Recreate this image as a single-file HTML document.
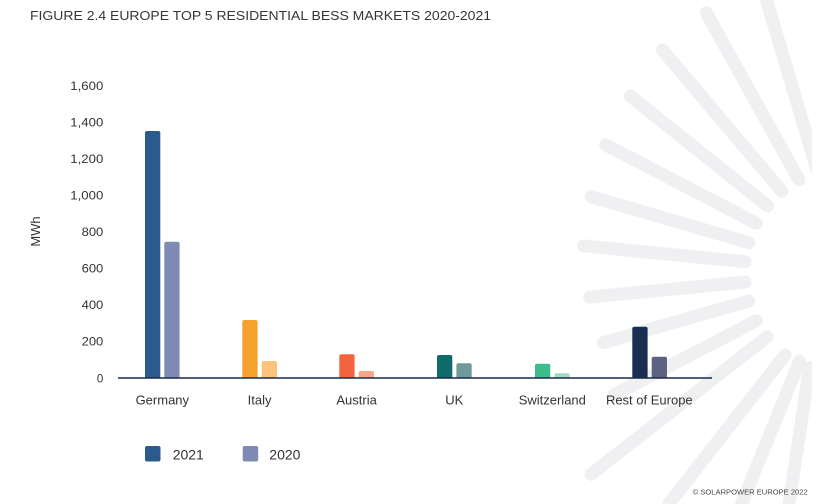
<!DOCTYPE html>
<html>
<head>
<meta charset="utf-8">
<style>
  html, body { margin: 0; padding: 0; background: #ffffff; width: 817px; height: 504px; overflow: hidden; }
  svg { display: block; overflow: hidden; }
  text { font-family: "Liberation Sans", sans-serif; }
</style>
</head>
<body>
<svg width="817" height="504" viewBox="0 0 817 504" xmlns="http://www.w3.org/2000/svg">
  <defs>
    <clipPath id="rc"><rect x="0" y="0" width="812" height="504"/></clipPath>
  </defs>
  <rect x="0" y="0" width="817" height="504" fill="#ffffff"/>

  <!-- sunburst rays -->
  <g clip-path="url(#rc)" fill="#f0f0f2">
    <polygon points="759.6,0 773.2,0 812,130.2 812,175.7"/>
  </g>
  <g clip-path="url(#rc)" stroke="#f0f0f2" stroke-width="13" stroke-linecap="round" fill="none">
    <line x1="798.9" y1="179.7" x2="706.3" y2="12.7"/>
    <line x1="781.9" y1="191.4" x2="662.5" y2="50.1"/>
    <line x1="767.7" y1="206.0" x2="630.3" y2="96.0"/>
    <line x1="756.4" y1="223.3" x2="605.6" y2="144.8"/>
    <line x1="748.7" y1="242.6" x2="591.2" y2="196.8"/>
    <line x1="745.0" y1="261.7" x2="583.8" y2="245.9"/>
    <line x1="745.0" y1="282.1" x2="589.7" y2="297.1"/>
    <line x1="748.6" y1="301.1" x2="603.4" y2="342.7"/>
    <line x1="756.4" y1="320.7" x2="614.1" y2="394.8"/>
    <line x1="766.9" y1="337.0" x2="591.1" y2="474.3"/>
    <line x1="785.0" y1="355.1" x2="668.7" y2="504"/>
    <line x1="799.5" y1="361.5" x2="741.5" y2="504"/>
    <line x1="809.5" y1="367.5" x2="789" y2="504"/>
  </g>

  <!-- title -->
  <text x="30" y="20" font-size="13" fill="#363636" textLength="461" lengthAdjust="spacingAndGlyphs">FIGURE 2.4 EUROPE TOP 5 RESIDENTIAL BESS MARKETS 2020-2021</text>

  <!-- y axis title -->
  <text transform="translate(40,231.5) rotate(-90)" font-size="13" fill="#333" text-anchor="middle">MWh</text>

  <!-- y tick labels -->
  <g font-size="11.5" fill="#333" text-anchor="end">
    <text x="103.3" y="90" textLength="33" lengthAdjust="spacingAndGlyphs">1,600</text>
    <text x="103.3" y="126.5" textLength="33" lengthAdjust="spacingAndGlyphs">1,400</text>
    <text x="103.3" y="163" textLength="33" lengthAdjust="spacingAndGlyphs">1,200</text>
    <text x="103.3" y="199.5" textLength="33" lengthAdjust="spacingAndGlyphs">1,000</text>
    <text x="103.3" y="236" textLength="21.7" lengthAdjust="spacingAndGlyphs">800</text>
    <text x="103.3" y="272.5" textLength="21.7" lengthAdjust="spacingAndGlyphs">600</text>
    <text x="103.3" y="309" textLength="21.7" lengthAdjust="spacingAndGlyphs">400</text>
    <text x="103.3" y="345.5" textLength="21.7" lengthAdjust="spacingAndGlyphs">200</text>
    <text x="103.3" y="382.3">0</text>
  </g>

  <!-- bars -->
  <g>
    <path d="M145,378 V133 Q145,131 147,131 H158.3 Q160.3,131 160.3,133 V378 Z" fill="#2d5a8c"/>
    <path d="M164.3,378 V243.7 Q164.3,241.7 166.3,241.7 H177.6 Q179.6,241.7 179.6,243.7 V378 Z" fill="#7f8bb3"/>
    <path d="M242.3,378 V322 Q242.3,320 244.3,320 H255.6 Q257.6,320 257.6,322 V378 Z" fill="#f6a12d"/>
    <path d="M261.7,378 V363 Q261.7,361 263.7,361 H275 Q277,361 277,363 V378 Z" fill="#fdc27c"/>
    <path d="M339.3,378 V356.3 Q339.3,354.3 341.3,354.3 H352.6 Q354.6,354.3 354.6,356.3 V378 Z" fill="#f26440"/>
    <path d="M358.7,378 V373 Q358.7,371 360.7,371 H372 Q374,371 374,373 V378 Z" fill="#f7a688"/>
    <path d="M437,378 V357 Q437,355 439,355 H450.3 Q452.3,355 452.3,357 V378 Z" fill="#0f6b6b"/>
    <path d="M456.4,378 V365.3 Q456.4,363.3 458.4,363.3 H469.7 Q471.7,363.3 471.7,365.3 V378 Z" fill="#6f9a99"/>
    <path d="M535,378 V365.7 Q535,363.7 537,363.7 H548.3 Q550.3,363.7 550.3,365.7 V378 Z" fill="#3dbd8b"/>
    <path d="M554.4,378 V375.3 Q554.4,373.3 556.4,373.3 H567.7 Q569.7,373.3 569.7,375.3 V378 Z" fill="#a3dbc2"/>
    <path d="M632.3,378 V328.7 Q632.3,326.7 634.3,326.7 H645.6 Q647.6,326.7 647.6,328.7 V378 Z" fill="#1a2e4f"/>
    <path d="M651.7,378 V358.7 Q651.7,356.7 653.7,356.7 H665 Q667,356.7 667,358.7 V378 Z" fill="#5d6380"/>
  </g>

  <!-- x axis line -->
  <line x1="118" y1="378" x2="712" y2="378" stroke="#1b2a48" stroke-width="1.6"/>

  <!-- category labels -->
  <g font-size="13" fill="#333" text-anchor="middle">
    <text x="162.3" y="404.5">Germany</text>
    <text x="259.6" y="404.5">Italy</text>
    <text x="356.6" y="404.5">Austria</text>
    <text x="454.3" y="404.5">UK</text>
    <text x="552.3" y="404.5">Switzerland</text>
    <text x="649.3" y="404.5">Rest of Europe</text>
  </g>

  <!-- legend -->
  <rect x="145" y="446" width="15.5" height="15.5" rx="2" fill="#2d5a8c"/>
  <text x="172.7" y="459.3" font-size="14" fill="#333">2021</text>
  <rect x="242.7" y="446" width="15.5" height="15.5" rx="2" fill="#7f8bb3"/>
  <text x="269.3" y="459.3" font-size="14" fill="#333">2020</text>

  <!-- copyright -->
  <text x="692.7" y="494.5" font-size="7.5" fill="#444" textLength="115" lengthAdjust="spacingAndGlyphs">© SOLARPOWER EUROPE 2022</text>
</svg>
</body>
</html>
